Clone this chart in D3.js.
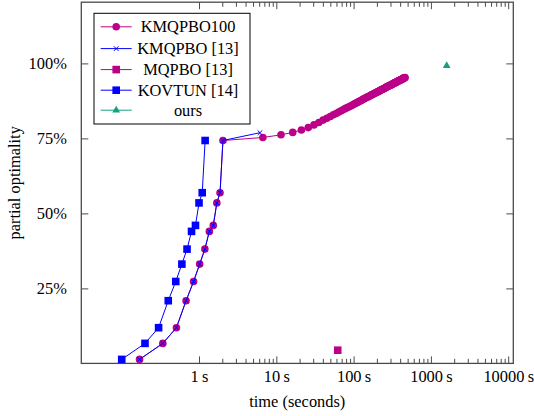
<!DOCTYPE html>
<html>
<head>
<meta charset="utf-8">
<script src="https://cdn.jsdelivr.net/npm/d3@7"></script>
<style>
  html, body { margin: 0; padding: 0; background: #fff; }
  svg { display: block; font-family: "Liberation Serif", "DejaVu Serif", serif; }
  svg text { font-family: "Liberation Serif", "DejaVu Serif", serif; }
</style>
</head>
<body>
<svg id="chart" width="534" height="416"></svg>
<script>
// ---- data (time in seconds, partial optimality in %) ----
const kmqpbo100Time = [0.17, 0.34, 0.51, 0.68, 0.85, 1.02, 1.19, 1.36, 1.53, 1.70, 1.87, 2.04,
  6.7, 11.5, 16.3, 21.1, 25.9, 30.7, 35.5, 40.3, 45.1, 49.9, 54.7, 59.5, 64.3, 69.1, 73.9,
  78.7, 83.5, 88.3, 93.1, 97.9, 102.7, 107.5, 112.3, 117.1, 121.9, 126.7, 131.5, 136.3, 141.1,
  145.9, 150.7, 155.5, 160.3, 165.1, 169.9, 174.7, 179.5, 184.3, 189.1, 193.9, 198.7, 203.5,
  208.3, 213.1, 217.9, 222.7, 227.5, 232.3, 237.1, 241.9, 246.7, 251.5, 256.3, 261.1, 265.9,
  270.7, 275.5, 280.3, 285.1, 289.9, 294.7, 299.5, 304.3, 309.1, 313.9, 318.7, 323.5, 328.3,
  333.1, 337.9, 342.7, 347.5, 352.3, 357.1, 361.9, 366.7, 371.5, 376.3, 381.1, 385.9, 390.7,
  395.5, 400.3, 405.1, 409.9, 414.7, 419.5, 424.3, 429.1, 433.9, 438.7, 443.5, 448.3, 453.1,
  457.9, 462.7];
const kmqpbo100Value = [1.33, 6.67, 11.9, 20.9, 27.3, 33.1, 38.1, 44.0, 46.0, 53.5, 56.9, 74.3,
  75.3, 76.2, 77.0, 77.8, 78.6, 79.5, 80.3, 81.1, 81.7, 82.3, 82.9, 83.3, 83.8, 84.2, 84.6,
  85.0, 85.3, 85.6, 85.9, 86.2, 86.5, 86.8, 87.0, 87.3, 87.5, 87.7, 88.0, 88.2, 88.4,
  88.6, 88.8, 88.9, 89.1, 89.3, 89.5, 89.6, 89.8, 89.9, 90.1, 90.2, 90.4, 90.5,
  90.6, 90.8, 90.9, 91.0, 91.2, 91.3, 91.4, 91.5, 91.6, 91.7, 91.8, 92.0, 92.1,
  92.2, 92.3, 92.4, 92.5, 92.6, 92.7, 92.7, 92.8, 92.9, 93.0, 93.1, 93.2, 93.3,
  93.4, 93.5, 93.5, 93.6, 93.7, 93.8, 93.9, 93.9, 94.0, 94.1, 94.2, 94.2, 94.3,
  94.4, 94.4, 94.5, 94.6, 94.6, 94.7, 94.8, 94.8, 94.9, 95.0, 95.0, 95.1, 95.2,
  95.2, 95.3];

const kmqpboTime = [0.17, 0.34, 0.51, 0.68, 0.85, 1.02, 1.19, 1.36, 1.53, 1.70, 1.87, 2.04, 6.15];
const kmqpboValue = [1.33, 6.67, 11.9, 20.9, 27.3, 33.1, 38.1, 44.0, 46.0, 53.5, 56.9, 74.3, 76.9];

const mqpboTime = [62.3];
const mqpboValue = [4.4];

const kovtunTime = [0.1, 0.2, 0.3, 0.4, 0.5, 0.6, 0.7, 0.8, 0.9, 1.0, 1.1, 1.2];
const kovtunValue = [1.33, 6.67, 11.9, 20.9, 27.3, 33.1, 38.1, 44.0, 46.0, 53.5, 56.9, 74.3];

const oursTime = [1600];
const oursValue = [99.2];

const xTickValues = [1, 10, 100, 1000, 10000];
const xTickLabels = ["1\u2009s", "10\u2009s", "100\u2009s", "1000\u2009s", "10000\u2009s"];
const yTickValues = [25, 50, 75, 100];
const yTickLabels = ["25%", "50%", "75%", "100%"];
const seriesNames = ["KMQPBO100", "KMQPBO [13]", "MQPBO [13]", "KOVTUN [14]", "ours"];

// ---- layout ----
const svg = d3.select("#chart");
const plot = { left: 81.3, right: 513.3, top: 2.2, bottom: 363.4 };
const FONT = 16.4;
const SERIF = "'Liberation Serif', 'DejaVu Serif', serif";
const MAGENTA = "#bc0088";
const BLUE = "#0000ff";
const TEAL = "#14a081";
const FRAME = "#4a4a4a";

const x = d3.scaleLog()
  .domain([Math.pow(10, -1.523), Math.pow(10, 4.066)])
  .range([plot.left, plot.right]);
const y = d3.scaleLinear()
  .domain([0, 120.4])
  .range([plot.bottom, plot.top]);

// minor ticks: 2..9 times each decade between the labelled ticks
const minorTicks = [];
for (let d = 0; d < xTickValues.length - 1; d++) {
  for (let m = 2; m <= 9; m++) minorTicks.push(xTickValues[d] * m);
}

const MAJOR = 7, MINOR = 4.6;

// bottom and top x axes, left and right y axes (ticks point inward)
const xBottom = d3.axisBottom(x).tickValues(xTickValues).tickSize(-MAJOR)
  .tickFormat((d, i) => xTickLabels[i]).tickPadding(MAJOR + 9);
const xBottomMinor = d3.axisBottom(x).tickValues(minorTicks).tickSize(-MINOR).tickFormat("");
const xTop = d3.axisTop(x).tickValues(xTickValues).tickSize(-MAJOR).tickFormat("");
const xTopMinor = d3.axisTop(x).tickValues(minorTicks).tickSize(-MINOR).tickFormat("");
const yLeft = d3.axisLeft(y).tickValues(yTickValues).tickSize(-MAJOR)
  .tickFormat((d, i) => yTickLabels[i]).tickPadding(MAJOR + 7.5);
const yRight = d3.axisRight(y).tickValues(yTickValues).tickSize(-MAJOR).tickFormat("");

function styleAxis(g) {
  g.attr("font-family", SERIF).attr("font-size", FONT);
  g.select(".domain").remove();
  g.selectAll(".tick line").attr("stroke", FRAME).attr("stroke-width", 1);
  g.selectAll(".tick text").attr("fill", "#000")
    .attr("font-family", SERIF).style("font-size", FONT + "px");
}

svg.append("g").attr("transform", `translate(0,${plot.bottom})`).call(xBottom).call(styleAxis)
  .selectAll(".tick text").attr("dy", "0.71em").attr("y", 7);
svg.append("g").attr("transform", `translate(0,${plot.bottom})`).call(xBottomMinor).call(styleAxis);
svg.append("g").attr("transform", `translate(0,${plot.top})`).call(xTop).call(styleAxis);
svg.append("g").attr("transform", `translate(0,${plot.top})`).call(xTopMinor).call(styleAxis);
svg.append("g").attr("transform", `translate(${plot.left},0)`).call(yLeft).call(styleAxis);
svg.append("g").attr("transform", `translate(${plot.right},0)`).call(yRight).call(styleAxis);

// frame
svg.append("rect")
  .attr("x", plot.left).attr("y", plot.top)
  .attr("width", plot.right - plot.left).attr("height", plot.bottom - plot.top)
  .attr("fill", "none").attr("stroke", FRAME).attr("stroke-width", 1.3);

// axis titles
svg.append("text")
  .attr("x", (plot.left + plot.right) / 2).attr("y", 407)
  .attr("text-anchor", "middle").style("font-size", FONT + "px")
  .text("time (seconds)");
svg.append("text")
  .attr("transform", `translate(20,${(plot.top + plot.bottom) / 2}) rotate(-90)`)
  .attr("text-anchor", "middle").style("font-size", FONT + "px")
  .text("partial optimality");

// ---- marks ----
const line = d3.line().x(d => x(d[0])).y(d => y(d[1]));
const zip = (a, b) => a.map((v, i) => [v, b[i]]);

const sym = {
  circle: d3.symbol().type(d3.symbolCircle).size(Math.PI * 3.8 * 3.8),
  square: d3.symbol().type(d3.symbolSquare).size(7.6 * 7.6),
  cross: d3.symbol().type(d3.symbolX).size(16),
  triangle: d3.symbol().type(d3.symbolTriangle).size(26)
};

function drawMarker(g, kind, color) {
  const p = g.append("path").attr("d", sym[kind]());
  if (kind === "cross") p.attr("fill", "none").attr("stroke", color).attr("stroke-width", 1);
  else p.attr("fill", color).attr("stroke", "none");
  return p;
}

function drawSeries(data, color, kind, withLine) {
  const g = svg.append("g");
  if (withLine && data.length > 1) {
    g.append("path").datum(data).attr("d", line)
      .attr("fill", "none").attr("stroke", color).attr("stroke-width", 1);
  }
  data.forEach(d => {
    const m = g.append("g").attr("transform", `translate(${x(d[0])},${y(d[1])})`);
    drawMarker(m, kind, color);
  });
}

drawSeries(zip(kmqpbo100Time, kmqpbo100Value), MAGENTA, "circle", true);
drawSeries(zip(kmqpboTime, kmqpboValue), BLUE, "cross", true);
drawSeries(zip(mqpboTime, mqpboValue), MAGENTA, "square", true);
drawSeries(zip(kovtunTime, kovtunValue), BLUE, "square", true);
drawSeries(zip(oursTime, oursValue), TEAL, "triangle", true);

// ---- legend ----
const legendStyles = [
  { color: MAGENTA, kind: "circle" },
  { color: BLUE, kind: "cross" },
  { color: MAGENTA, kind: "square" },
  { color: BLUE, kind: "square" },
  { color: TEAL, kind: "triangle" }
];
const legend = svg.append("g");
legend.append("rect")
  .attr("x", 94).attr("y", 13.3).attr("width", 156).attr("height", 110.7)
  .attr("fill", "#fff").attr("stroke", "#000").attr("stroke-width", 1);
const rowY = [26.8, 48.6, 69.6, 90.2, 110.2];
seriesNames.forEach((name, i) => {
  const st = legendStyles[i];
  const row = legend.append("g").attr("transform", `translate(0,${rowY[i]})`);
  row.append("line").attr("x1", 100.7).attr("x2", 131.7).attr("y1", 0).attr("y2", 0)
    .attr("stroke", st.color).attr("stroke-width", 1);
  const m = row.append("g").attr("transform", "translate(116.2,0)");
  drawMarker(m, st.kind, st.color);
  row.append("text").attr("x", 188).attr("y", 0).attr("dy", "0.34em")
    .attr("text-anchor", "middle").style("font-size", FONT + "px")
    .text(name);
});
</script>
</body>
</html>
